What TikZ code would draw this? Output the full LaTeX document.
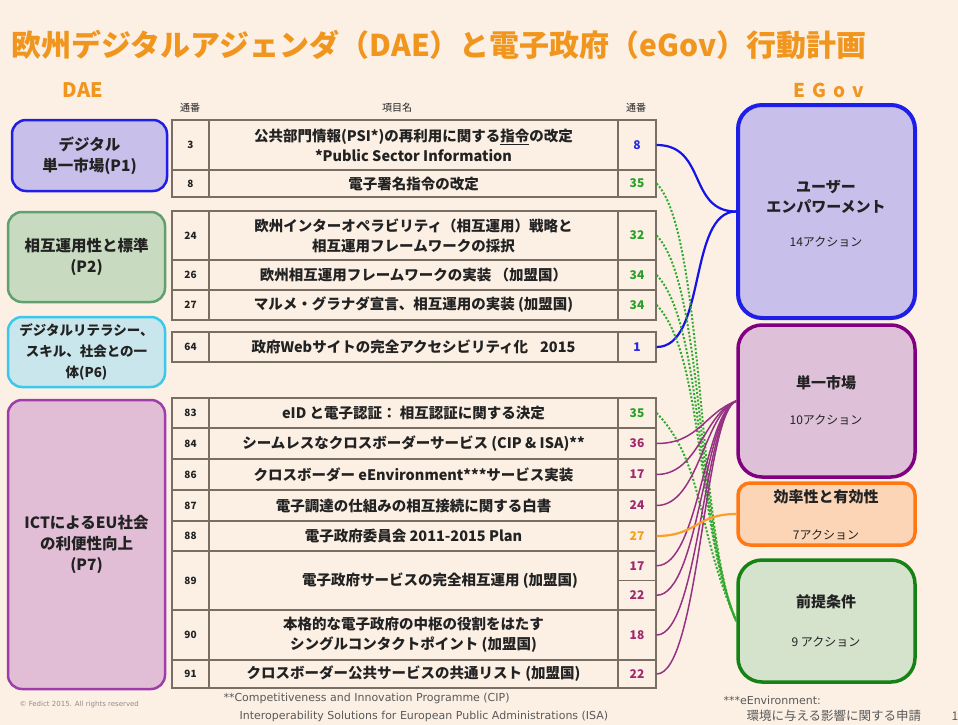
\documentclass[tikz,border=0pt]{standalone}
\usepackage{fontspec}
\setmainfont{Noto Sans CJK JP}
\newfontfamily\dejavu{DejaVu Sans}
\definecolor{bg}{RGB}{252,240,229}
\definecolor{titleorange}{RGB}{240,150,30}
\definecolor{tline}{RGB}{120,110,100}
\definecolor{txt}{RGB}{34,34,34}
\definecolor{blueB}{RGB}{30,30,230}
\definecolor{blueF}{RGB}{200,192,235}
\definecolor{greenB}{RGB}{95,160,110}
\definecolor{greenF}{RGB}{200,218,192}
\definecolor{cyanB}{RGB}{60,200,235}
\definecolor{cyanF}{RGB}{200,230,235}
\definecolor{purpB}{RGB}{160,60,170}
\definecolor{purpF}{RGB}{226,190,214}
\definecolor{smB}{RGB}{128,0,128}
\definecolor{smF}{RGB}{222,192,216}
\definecolor{effB}{RGB}{255,120,20}
\definecolor{effF}{RGB}{252,213,182}
\definecolor{preB}{RGB}{20,130,20}
\definecolor{preF}{RGB}{213,226,204}
\definecolor{numgreen}{RGB}{40,160,40}
\definecolor{numblue}{RGB}{40,40,220}
\definecolor{numpurp}{RGB}{160,40,110}
\definecolor{numorange}{RGB}{240,160,30}
\definecolor{conpurp}{RGB}{150,50,130}
\definecolor{congreen}{RGB}{50,170,50}
\definecolor{conblue}{RGB}{20,20,230}
\definecolor{conorange}{RGB}{250,160,40}
\newcommand\trow[7]{%
  \node[tcell, minimum width=37pt, minimum height={#3-#2}, font=\bfseries\fontsize{10}{12}\selectfont] (l#1) at (190.5,{(#2+#3)/2}) {#4};
  \node[tcell, minimum width=409pt, minimum height={#3-#2}, font=\bfseries\fontsize{14.5}{20}\selectfont] (t#1) at (413.5,{(#2+#3)/2}) {#5};
  \node[tcell, minimum width=38pt, minimum height={#3-#2}, text=#7, font=\bfseries\fontsize{12}{14}\selectfont] (r#1) at (637,{(#2+#3)/2}) {#6};
}
\begin{document}
\begin{tikzpicture}[x=1pt,y=-1pt,
  tcell/.style={draw=tline, line width=1.3pt, inner sep=0pt, align=center, text=txt},
  lbox/.style={rounded corners=14pt, line width=2.5pt, align=center, text=txt, inner sep=0pt, font=\bfseries\fontsize{15.5}{21}\selectfont},
  rbox/.style={rounded corners=24pt, line width=3.5pt, minimum width=177pt, inner sep=0pt},
  rtitle/.style={align=center, text=txt, font=\bfseries\fontsize{15}{20}\selectfont},
  rsub/.style={text=txt, font=\fontsize{12}{14}\selectfont},
  bluec/.style={draw=conblue, line width=2.2pt},
  greenc/.style={draw=congreen, line width=2pt, dash pattern=on 2pt off 1.8pt},
  purpc/.style={draw=conpurp, line width=1.5pt},
  orangec/.style={draw=conorange, line width=2.2pt},
  hdr/.style={text=txt, font=\fontsize{10}{12}\selectfont}
]
\fill[bg] (0,0) rectangle (958,725);
\useasboundingbox (0,0) rectangle (958,725);

% title
\node[anchor=west, text=titleorange, font=\bfseries\fontsize{30}{36}\selectfont] (title) at (8,45) {欧州デジタルアジェンダ（DAE）と電子政府（eGov）行動計画};
\node[text=titleorange, font=\bfseries\fontsize{20}{24}\selectfont] (dae) at (83,90) {DAE};
\node[text=titleorange, font=\bfseries\fontsize{19}{24}\selectfont] (egov) at (829,90) {E\hspace{7pt}G\hspace{7pt}o\hspace{7pt}v};

% headers
\node[hdr] (h1) at (190,108) {通番};
\node[hdr] (h2) at (397,108) {項目名};
\node[hdr] (h3) at (636,108) {通番};

% left boxes
\node[lbox, draw=blueB, fill=blueF, minimum width=155pt, minimum height=71pt] (p1) at (89.5,155.5) {デジタル\\単一市場(P1)};
\node[lbox, draw=greenB, fill=greenF, minimum width=157pt, minimum height=90pt] (p2) at (86.5,257) {相互運用性と標準\\(P2)};
\node[lbox, draw=cyanB, fill=cyanF, minimum width=157pt, minimum height=70pt, font=\bfseries\fontsize{13.5}{21}\selectfont] (p6) at (86.5,352) {デジタルリテラシー、\\スキル、社会との一\\体(P6)};
\node[lbox, draw=purpB, fill=purpF, minimum width=157pt, minimum height=289pt] (p7) at (86.5,544.5) {ICTによるEU社会\\の利便性向上\\(P7)};

% table
\trow{3}{120}{170}{3}{公共部門情報(PSI*)の再利用に関する\underline{指令}の改定\\\relax{}*Public Sector Information}{8}{numblue}
\trow{8}{170}{197}{8}{電子署名指令の改定}{35}{numgreen}
\trow{24}{211}{260}{24}{欧州インターオペラビリティ（相互運用）戦略と\\相互運用フレームワークの採択}{32}{numgreen}
\trow{26}{260}{290}{26}{欧州相互運用フレームワークの実装 （加盟国）}{34}{numgreen}
\trow{27}{290}{320}{27}{マルメ・グラナダ宣言、相互運用の実装 (加盟国)}{34}{numgreen}
\trow{64}{332}{362}{64}{政府Webサイトの完全アクセシビリティ化\hspace{12pt}2015}{1}{numblue}
\trow{83}{398}{428}{83}{eID と電子認証： 相互認証に関する決定}{35}{numgreen}
\trow{84}{428}{459}{84}{シームレスなクロスボーダーサービス (CIP \& ISA)**}{36}{numpurp}
\trow{86}{459}{490}{86}{クロスボーダー eEnvironment***サービス実装}{17}{numpurp}
\trow{87}{490}{521}{87}{電子調達の仕組みの相互接続に関する白書}{24}{numpurp}
\trow{88}{521}{551}{88}{電子政府委員会 2011-2015 Plan}{27}{numorange}
% row 89 (split number cell)
\node[tcell, minimum width=37pt, minimum height=59pt, font=\bfseries\fontsize{10}{12}\selectfont] (l89) at (190.5,580.5) {89};
\node[tcell, minimum width=409pt, minimum height=59pt] (t89) at (413.5,580.5) {};
\node[text=txt, font=\bfseries\fontsize{14.5}{20}\selectfont] (t89x) at (440,580.5) {電子政府サービスの完全相互運用 (加盟国)};
\node[tcell, minimum width=38pt, minimum height=29.5pt, text=numpurp, font=\bfseries\fontsize{12}{14}\selectfont] (r89a) at (637,565.75) {17};
\node[tcell, minimum width=38pt, minimum height=29.5pt, text=numpurp, font=\bfseries\fontsize{12}{14}\selectfont] (r89b) at (637,595.25) {22};
\trow{90}{610}{660}{90}{本格的な電子政府の中枢の役割をはたす\\シングルコンタクトポイント (加盟国)}{18}{numpurp}
\trow{91}{660}{688}{91}{クロスボーダー公共サービスの共通リスト (加盟国)}{22}{numpurp}

% right boxes
\node[rbox, draw=blueB, line width=4pt, fill=blueF, minimum height=213pt] (ue) at (826.5,211.5) {};
\node[rbox, draw=smB, fill=smF, minimum height=152pt] (sm) at (826.5,401) {};
\node[rbox, draw=effB, fill=effF, minimum height=62pt, rounded corners=12pt] (eff) at (826.5,514) {};
\node[rbox, draw=preB, fill=preF, minimum height=122pt] (pre) at (826.5,621) {};
\node[rtitle] (uet) at (826,197) {ユーザー\\エンパワーメント};
\node[rsub] (ues) at (826,242) {14アクション};
\node[rtitle] (smt) at (826,383) {単一市場};
\node[rsub] (sms) at (826,420) {10アクション};
\node[rtitle] (efft) at (826,497) {効率性と有効性};
\node[rsub] (effs) at (826,535) {7アクション};
\node[rtitle] (pret) at (826,602) {前提条件};
\node[rsub] (pres) at (826,642) {9 アクション};

% connectors
\draw[bluec] (r3.east) .. controls +(50,0) and +(-48,0) .. (ue.west);
\draw[bluec] (r64.east) .. controls +(50,0) and +(-48,0) .. (ue.west);
\foreach \n in {8,24,26,27,83}{
  \draw[greenc] (r\n.east) .. controls +(48,50) and +(-40,-90) .. (pre.west);
}
\foreach \n in {84,86,87,89a,89b,90,91}{
  \draw[purpc] (r\n.east) .. controls +(42,0) and +(-32,12) .. (sm.west);
}
\draw[orangec] (r88.east) .. controls +(40,0) and +(-40,0) .. (eff.west);

% footnotes
\node[anchor=west, text=black!45, font=\dejavu\fontsize{7}{8}\selectfont] (copy) at (16,705) {© Fedict 2015. All rights reserved};
\node[anchor=west, text=black!65, font=\dejavu\fontsize{11}{13}\selectfont] (fn1) at (220,698) {**Competitiveness and Innovation Programme (CIP)};
\node[anchor=west, text=black!65, font=\dejavu\fontsize{11}{13}\selectfont] (fn2) at (236,716) {Interoperability Solutions for European Public Administrations (ISA)};
\node[anchor=west, text=black!65, font=\dejavu\fontsize{11}{13}\selectfont] (fn3) at (720,700) {***eEnvironment:};
\node[anchor=west, text=black!65, font=\fontsize{12.5}{14}\selectfont] (fn4) at (743,716) {環境に与える影響に関する申請};
\node[anchor=west, text=black!65, font=\fontsize{12}{14}\selectfont] (pg) at (948,716) {1};
\end{tikzpicture}
\end{document}
